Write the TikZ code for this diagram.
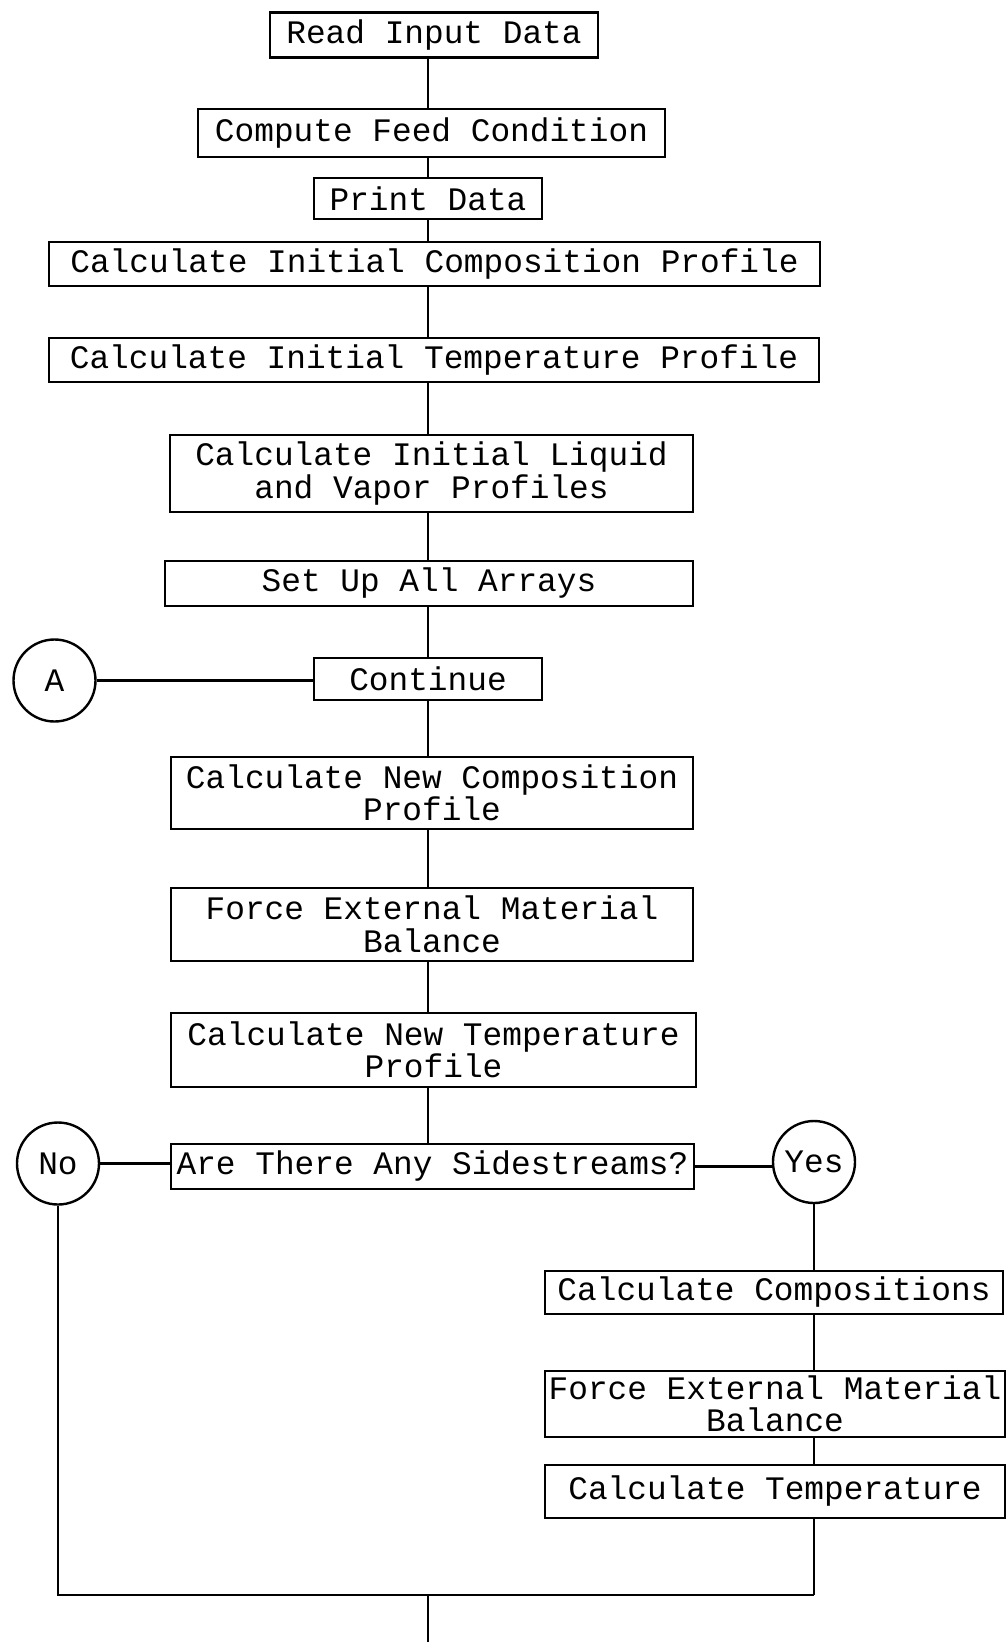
\documentclass[tikz,border=0pt]{standalone}
\usepackage{fontspec}
\newfontfamily\tw{Liberation Mono}
\begin{document}
\begin{tikzpicture}[x=1pt,y=-1pt,
  every node/.style={font=\tw\fontsize{32.8}{32.5}\selectfont},
  box/.style={draw,line width=2.6pt,rectangle,inner sep=0pt,align=center},
  conn/.style={circle,draw,line width=2.4pt,minimum size=82pt,inner sep=0pt},
  link/.style={line width=2.3pt}]
\useasboundingbox (0,0) rectangle (1007,1642);

% spine of the main sequence
\coordinate (spine) at (428,0);

% main column of steps
\node[box,minimum width=328pt,minimum height=45pt] (read) at (434,35) {Read Input Data};
\node[box,minimum width=467pt,minimum height=48pt] (feed) at (431.5,133) {Compute Feed Condition};
\node[box,minimum width=228pt,minimum height=41pt] (print) at (428,198.5) {Print Data};
\node[box,minimum width=771pt,minimum height=44pt] (initcomp) at (434.5,264) {Calculate Initial Composition Profile};
\node[box,minimum width=770pt,minimum height=44pt] (inittemp) at (434,360) {Calculate Initial Temperature Profile};
\node[box,minimum width=523pt,minimum height=77pt] (initlv) at (431.5,473.5) {Calculate Initial Liquid\\and Vapor Profiles};
\node[box,minimum width=528pt,minimum height=45pt] (arrays) at (429,583.5) {Set Up All Arrays};
\node[box,minimum width=228pt,minimum height=42pt] (cont) at (428,679) {Continue};
\node[box,minimum width=522pt,minimum height=72pt] (newcomp) at (432,793) {Calculate New Composition\\Profile};
\node[box,minimum width=522pt,minimum height=73pt] (force) at (432,924.5) {Force External Material\\Balance};
\node[box,minimum width=525pt,minimum height=74pt] (newtemp) at (433.5,1050) {Calculate New Temperature\\Profile};
\node[box,minimum width=523pt,minimum height=45pt] (side) at (432.5,1166.5) {Are There Any Sidestreams?};

% sidestream branch
\node[box,minimum width=458pt,minimum height=43pt] (comps) at (774,1292.5) {Calculate Compositions};
\node[box,minimum width=460pt,minimum height=66pt] (force2) at (775,1404) {Force External Material\\Balance};
\node[box,minimum width=460pt,minimum height=53pt] (temp) at (775,1491.5) {Calculate Temperature};

% connector circles
\node[conn] (A) at (54.5,680.5) {A};
\node[conn] (no) at (58,1163.5) {No};
\node[conn] (yes) at (814,1162) {Yes};

% merge points and exit
\coordinate (mergeL) at (58,1595);
\coordinate (mergeR) at (814,1595);
\coordinate (exit) at (428,1642);

% main sequence links
\draw[link] (read.south -| spine) -- (feed.north -| spine);
\draw[link] (feed.south -| spine) -- (print.north -| spine);
\draw[link] (print.south -| spine) -- (initcomp.north -| spine);
\draw[link] (initcomp.south -| spine) -- (inittemp.north -| spine);
\draw[link] (inittemp.south -| spine) -- (initlv.north -| spine);
\draw[link] (initlv.south -| spine) -- (arrays.north -| spine);
\draw[link] (arrays.south -| spine) -- (cont.north -| spine);
\draw[link] (cont.south -| spine) -- (newcomp.north -| spine);
\draw[link] (newcomp.south -| spine) -- (force.north -| spine);
\draw[link] (force.south -| spine) -- (newtemp.north -| spine);
\draw[link] (newtemp.south -| spine) -- (side.north -| spine);

% connector A and decision branches
\draw[link] (A.east) -- (A.east -| cont.west);
\draw[link] (no.east) -- (no.east -| side.west);
\draw[link] (side.east) -- (side.east -| yes.west);

% yes branch
\draw[link] (yes.south) -- (comps.north -| yes);
\draw[link] (comps.south -| yes) -- (force2.north -| yes);
\draw[link] (force2.south -| yes) -- (temp.north -| yes);
\draw[link] (temp.south -| yes) -- (mergeR);

% no branch and merge
\draw[link,line join=miter] (no.south) -- (mergeL) -- (mergeR);
\draw[link] (mergeR -| spine) -- (exit);
\end{tikzpicture}
\end{document}
